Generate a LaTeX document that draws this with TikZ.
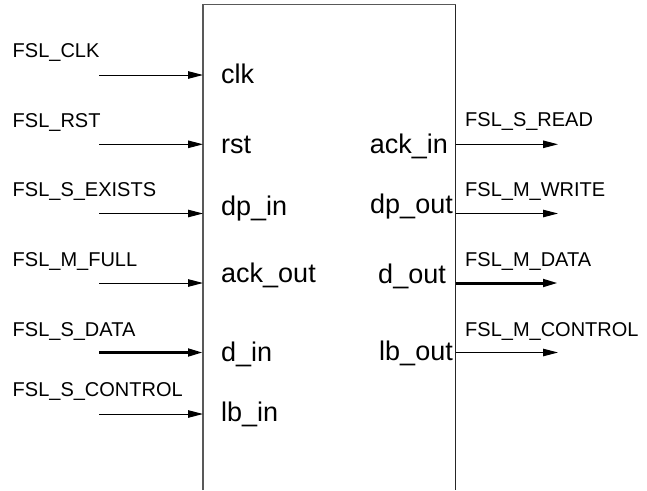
\documentclass[tikz,border=0pt]{standalone}
\usepackage{fontspec}
\setmainfont{Liberation Sans}
\usetikzlibrary{arrows.meta}
\begin{document}
\begin{tikzpicture}[x=1pt,y=-1pt,
  sig/.style={font=\fontsize{20}{20}\selectfont, anchor=base west, inner sep=0pt},
  portl/.style={font=\fontsize{27}{27}\selectfont, anchor=base west, inner sep=0pt},
  portr/.style={font=\fontsize{27}{27}\selectfont, anchor=base east, inner sep=0pt},
  wire/.style={line width=1pt, -{Triangle[length=15pt,width=7.5pt]}},
  bus/.style={line width=3pt, -{Triangle[length=15pt,width=7.5pt]}}]
\useasboundingbox (0,0) rectangle (647,490);
% box (open at the bottom)
\coordinate (bl) at (203,490);
\coordinate (tl) at (203,4.5);
\coordinate (tr) at (455.5,4.5);
\coordinate (br) at (455.5,490);
\draw[line width=1.2pt, black!65] (bl) -- (tl) -- (tr);
\draw[line width=1.2pt, black!85] (tr) -- (br);

% port labels inside the box
\node[portl] (clk) at (221,83.3) {clk};
\node[portl] (rst) at (221,153.3) {rst};
\node[portl] (dpin) at (221,215) {dp\_in};
\node[portl] (ackout) at (221,282) {ack\_out};
\node[portl] (din) at (221,361.7) {d\_in};
\node[portl] (lbin) at (221,421.7) {lb\_in};
\node[portr] (ackin) at (448,153.3) {ack\_in};
\node[portr] (dpout) at (453,213.3) {dp\_out};
\node[portr] (dout) at (446,283.3) {d\_out};
\node[portr] (lbout) at (453,360.7) {lb\_out};

% signal names
\node[sig] (sclk) at (12.5,57.3) {FSL\_CLK};
\node[sig] (srst) at (12.5,127.3) {FSL\_RST};
\node[sig] (sexists) at (12.5,196) {FSL\_S\_EXISTS};
\node[sig] (mfull) at (12.5,266) {FSL\_M\_FULL};
\node[sig] (sdata) at (12.5,336) {FSL\_S\_DATA};
\node[sig] (scontrol) at (12.5,396) {FSL\_S\_CONTROL};
\node[sig] (sread) at (465,126.7) {FSL\_S\_READ};
\node[sig] (mwrite) at (465,196) {FSL\_M\_WRITE};
\node[sig] (mdata) at (465,266) {FSL\_M\_DATA};
\node[sig] (mcontrol) at (465,336) {FSL\_M\_CONTROL};

% wire end points
\coordinate (a1) at (99,75);    \coordinate (b1) at (203,75);
\coordinate (a2) at (99,144.3); \coordinate (b2) at (203,144.3);
\coordinate (a3) at (99,213.5); \coordinate (b3) at (203,213.5);
\coordinate (a4) at (99,283);   \coordinate (b4) at (203,283);
\coordinate (a5) at (99,352.5); \coordinate (b5) at (203,352.5);
\coordinate (a6) at (99,414);   \coordinate (b6) at (203,414);
\coordinate (c1) at (455.5,144.3); \coordinate (d1) at (558,144.3);
\coordinate (c2) at (455.5,213.5); \coordinate (d2) at (558,213.5);
\coordinate (c3) at (455.5,283);   \coordinate (d3) at (558,283);
\coordinate (c4) at (455.5,352.5); \coordinate (d4) at (558,352.5);

\draw[wire] (a1) -- (b1);
\draw[wire] (a2) -- (b2);
\draw[wire] (a3) -- (b3);
\draw[wire] (a4) -- (b4);
\draw[bus]  (a5) -- (b5);
\draw[wire] (a6) -- (b6);
\draw[wire] (c1) -- (d1);
\draw[wire] (c2) -- (d2);
\draw[bus]  (c3) -- (d3);
\draw[wire] (c4) -- (d4);
\end{tikzpicture}
\end{document}
